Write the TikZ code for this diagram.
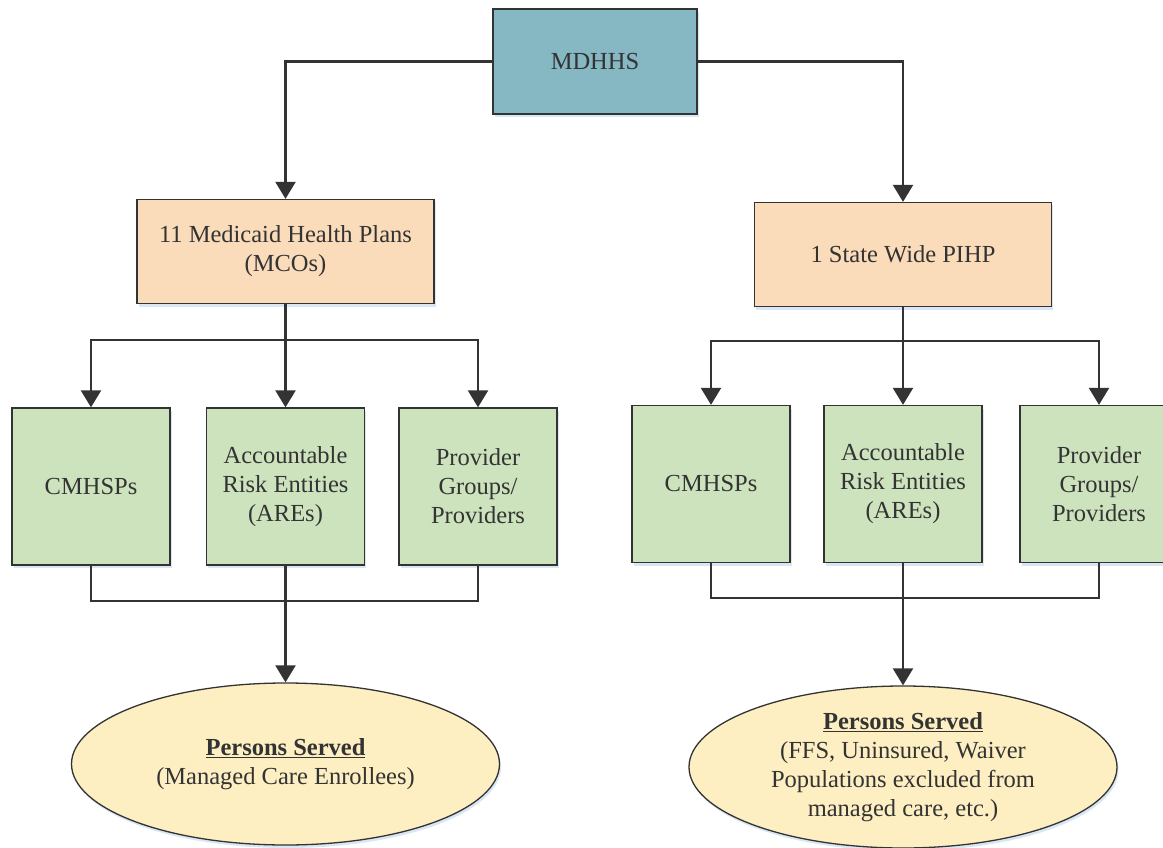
\documentclass[tikz,border=0pt]{standalone}
\usepackage{fontspec}
\setmainfont{Liberation Serif}
\usetikzlibrary{arrows.meta,shapes.geometric,shadows}
\definecolor{tealbox}{HTML}{86B8C4}
\definecolor{peach}{HTML}{FADBBA}
\definecolor{greenbox}{HTML}{CCE3BD}
\definecolor{yellowell}{HTML}{FDEFC2}
\definecolor{ink}{HTML}{333333}
\definecolor{shade}{HTML}{C9DDF0}
\tikzset{
  base/.style={draw=ink, line width=1.3pt, text=ink, inner sep=0pt, align=center,
    font=\fontsize{24.5}{29}\selectfont,
    drop shadow={shadow xshift=1.5pt, shadow yshift=-3pt, fill=shade, opacity=0.7}},
  topbox/.style={base, fill=tealbox, minimum width=204pt, minimum height=105pt},
  planbox/.style={base, fill=peach, minimum width=297pt, minimum height=104pt},
  leafbox/.style={base, fill=greenbox, minimum width=158pt, minimum height=157pt},
  served/.style={base, ellipse, fill=yellowell, minimum width=428pt, minimum height=162pt},
  link/.style={draw=ink, line width=2.3pt},
  arr/.style={link, -{Triangle[width=20pt,length=17pt]}}
}
\begin{document}
\begin{tikzpicture}[x=1pt,y=-1pt]
\useasboundingbox[fill=white] (0,0) rectangle (1163,848);
% nodes
\node[topbox] (mdhhs) at (595,61.5) {MDHHS};
\node[planbox] (mco) at (285.5,251.5) {11 Medicaid Health Plans\\(MCOs)};
\node[planbox] (pihp) at (903,254.5) {1 State Wide PIHP};
\node[leafbox] (lc) at (91,486.5) {CMHSPs};
\node[leafbox] (la) at (285.5,486.5) {Accountable\\Risk Entities\\(AREs)};
\node[leafbox] (lp) at (478,486.5) {Provider\\Groups/\\Providers};
\node[leafbox] (rc) at (711,484) {CMHSPs};
\node[leafbox] (ra) at (903,484) {Accountable\\Risk Entities\\(AREs)};
\node[leafbox] (rp) at (1099,484) {Provider\\Groups/\\Providers};
\node[served] (lell) at (285.5,764) {\underline{\textbf{Persons Served}}\\(Managed Care Enrollees)};
\node[served] (rell) at (903,767) {\underline{\textbf{Persons Served}}\\(FFS, Uninsured, Waiver\\Populations excluded from\\managed care, etc.)};
% top connectors
\draw[arr] (mdhhs.west) -| (mco.north);
\draw[arr] (mdhhs.east) -| (pihp.north);
% left branch
\coordinate (lbr) at (mco.south |- 0,340);
\draw[link] (mco.south) -- (lbr);
\draw[arr] (lbr) -| (lc.north);
\draw[arr] (lbr) -| (lp.north);
\draw[arr] (lbr) -- (la.north);
\coordinate (ljn) at (la.south |- 0,601);
\draw[link] (lc.south) |- (ljn) -| (lp.south);
\draw[arr] (la.south) -- (lell.north);
% right branch
\coordinate (rbr) at (pihp.south |- 0,341);
\draw[link] (pihp.south) -- (rbr);
\draw[arr] (rbr) -| (rc.north);
\draw[arr] (rbr) -| (rp.north);
\draw[arr] (rbr) -- (ra.north);
\coordinate (rjn) at (ra.south |- 0,598);
\draw[link] (rc.south) |- (rjn) -| (rp.south);
\draw[arr] (ra.south) -- (rell.north);
\end{tikzpicture}
\end{document}
